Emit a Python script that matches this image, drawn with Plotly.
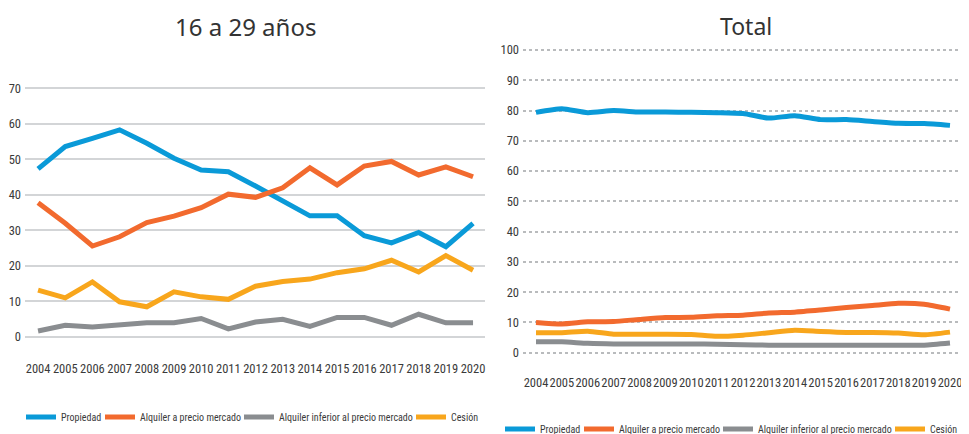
import plotly.graph_objects as go

years = list(range(2004, 2021))

# 16 a 29 años
joven_propiedad = [47.3, 53.6, 55.9, 58.3, 54.5, 50.3, 47.0, 46.5, 42.5, 38.3, 34.1, 34.1, 28.5, 26.5, 29.4, 25.4, 32.0]
joven_alquiler = [37.8, 32.0, 25.6, 28.2, 32.2, 34.0, 36.4, 40.2, 39.3, 42.0, 47.6, 42.8, 48.1, 49.4, 45.6, 47.9, 45.1]
joven_inferior = [1.7, 3.3, 2.8, 3.3, 4.0, 4.0, 5.2, 2.3, 4.2, 5.0, 3.0, 5.5, 5.5, 3.3, 6.4, 4.0, 4.0]
joven_cesion = [13.2, 11.0, 15.5, 9.9, 8.5, 12.7, 11.3, 10.6, 14.3, 15.6, 16.3, 18.1, 19.2, 21.6, 18.3, 22.9, 18.8]

# Total
total_propiedad = [79.4, 80.6, 79.3, 80.0, 79.5, 79.5, 79.4, 79.3, 79.0, 77.5, 78.3, 77.0, 77.0, 76.4, 75.8, 75.7, 75.1]
total_alquiler = [10.0, 9.5, 10.2, 10.3, 11.0, 11.6, 11.7, 12.2, 12.4, 13.1, 13.4, 14.1, 14.9, 15.6, 16.3, 16.0, 14.4]
total_inferior = [3.6, 3.6, 3.1, 2.9, 2.9, 2.9, 2.9, 2.8, 2.6, 2.5, 2.5, 2.5, 2.5, 2.5, 2.5, 2.5, 3.2]
total_cesion = [6.6, 6.6, 7.1, 6.1, 6.1, 6.1, 6.0, 5.4, 5.8, 6.6, 7.4, 7.0, 6.7, 6.7, 6.5, 5.9, 6.8]

series = ["Propiedad", "Alquiler a precio mercado", "Alquiler inferior al precio mercado", "Cesión"]
colors = ["#0a9ad8", "#f26a2e", "#8a8d90", "#f8a61c"]
entry_w = [34, 94, 127, None]  # trimmed legend entry widths

# page body has an 8px margin, so the figure is a bit smaller than the window
OFF = 8
W, H = 969 - OFF, 434 - OFF


def px_x(x):
    return (x - OFF) / W


def px_y(y):
    return (434 - y) / H


narrow = "Roboto Condensed"

fig = go.Figure()

left = [joven_propiedad, joven_alquiler, joven_inferior, joven_cesion]
right = [total_propiedad, total_alquiler, total_inferior, total_cesion]

for name, vals, col, ew in zip(series, left, colors, entry_w):
    fig.add_trace(go.Scatter(x=years, y=vals, name=name, mode="lines",
                             line=dict(color=col, width=5),
                             xaxis="x", yaxis="y", legend="legend", legendwidth=ew))

for name, vals, col, ew in zip(series, right, colors, entry_w):
    fig.add_trace(go.Scatter(x=years, y=vals, name=name, mode="lines",
                             line=dict(color=col, width=5, shape="spline", smoothing=0.6),
                             xaxis="x2", yaxis="y2", legend="legend2", legendwidth=ew))

tickfont = dict(family=narrow, size=12.5, color="#3a3a3a")
legfont = dict(family=narrow, size=10, color="#3a3a3a")

fig.update_layout(
    width=W, height=H,
    margin=dict(l=0, r=0, t=0, b=0, autoexpand=False),
    paper_bgcolor="white", plot_bgcolor="white",
    xaxis=dict(domain=[px_x(25), px_x(485)], range=[2003.52, 2020.44],
               tickmode="array", tickvals=years, ticks="outside", ticklen=13,
               tickcolor="rgba(0,0,0,0)", showgrid=False, zeroline=False,
               tickfont=tickfont, tickangle=0, anchor="y"),
    yaxis=dict(domain=[px_y(344.1), px_y(84.7)], range=[-2, 71],
               tickvals=[0, 10, 20, 30, 40, 50, 60, 70],
               showgrid=True, gridcolor="#d3d5d7", gridwidth=2, zeroline=False,
               tickfont=tickfont, anchor="x", ticklabelstandoff=3),
    xaxis2=dict(domain=[px_x(523), px_x(962)], range=[2003.498, 2020.464],
                tickmode="array", tickvals=years, ticks="outside", ticklen=12,
                tickcolor="rgba(0,0,0,0)", showgrid=False, zeroline=False,
                tickfont=tickfont, tickangle=0, ticklabeloverflow="allow", anchor="y2"),
    yaxis2=dict(domain=[px_y(358.75), px_y(46.97)], range=[-2, 101],
                tickvals=list(range(0, 101, 10)),
                showgrid=True, gridcolor="#b9bbbd", gridwidth=1.5, griddash="dot",
                zeroline=False, tickfont=tickfont, anchor="x2", ticklabelstandoff=3),
    legend=dict(orientation="h", x=px_x(21), y=px_y(417), xanchor="left", yanchor="middle",
                font=legfont, itemwidth=30, bgcolor="rgba(0,0,0,0)"),
    legend2=dict(orientation="h", x=px_x(500), y=px_y(429), xanchor="left", yanchor="middle",
                 font=legfont, itemwidth=30, bgcolor="rgba(0,0,0,0)"),
    annotations=[
        dict(text="16 a 29 años", x=px_x(245), y=px_y(27), xref="paper", yref="paper",
             xanchor="center", yanchor="middle", showarrow=False,
             font=dict(family="Noto Sans", size=24, color="#333333")),
        dict(text="Total", x=px_x(746), y=1, xref="paper", yref="paper",
             xanchor="center", yanchor="top", showarrow=False,
             font=dict(family="Noto Sans", size=23, color="#333333")),
    ],
)

fig.write_html("out.html")
